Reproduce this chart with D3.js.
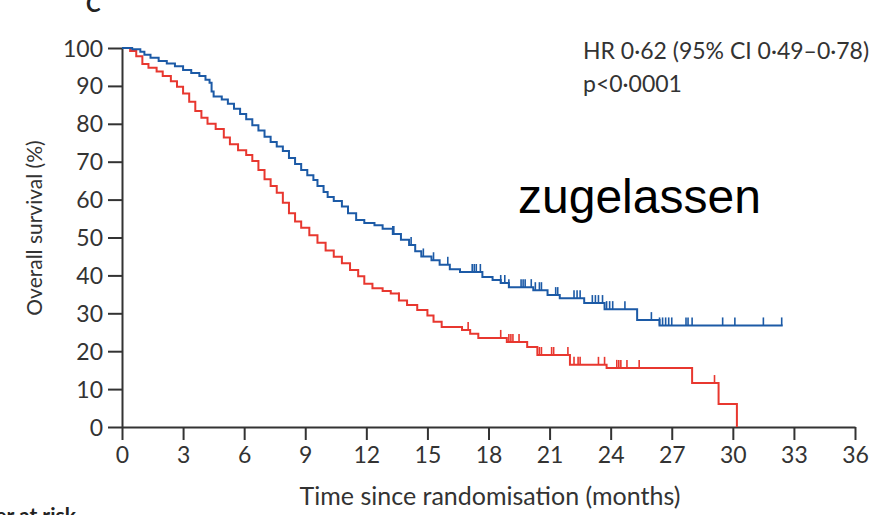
<!DOCTYPE html>
<html>
<head>
<meta charset="utf-8">
<script src="https://cdn.jsdelivr.net/npm/d3@7"></script>
<style>
  body { margin: 0; background: #fff; }
  svg { display: block; }
  .tick text { font-family: Lato, sans-serif; fill: #333; }
</style>
</head>
<body>
<svg></svg>
<script>
//Survival steps: [months, % alive]
let blueSteps = [
  [0, 100], [0.5, 99.7], [0.9, 99.0], [1.1, 98.2], [1.4, 97.4], [1.8, 96.6], [2.2, 95.9],
  [2.6, 95.2], [3.0, 94.2], [3.4, 93.4], [3.8, 92.6], [4.1, 91.6], [4.3, 90.8], [4.4, 88.5],
  [4.5, 87.2], [4.9, 86.4], [5.2, 85.3], [5.5, 84.0], [5.8, 82.6], [6.1, 81.2], [6.4, 79.6],
  [6.7, 78.2], [7.0, 76.6], [7.3, 75.2], [7.6, 74.0], [7.9, 72.8], [8.2, 71.0], [8.5, 69.4],
  [8.8, 67.8], [9.1, 66.4], [9.4, 65.2], [9.6, 63.6], [9.9, 62.0], [10.1, 60.7], [10.4, 59.6],
  [10.8, 58.2], [11.1, 56.4], [11.5, 54.6], [11.9, 53.8], [12.4, 53.2], [12.8, 52.3],
  [13.3, 50.9], [13.7, 49.4], [14.1, 48.0], [14.4, 46.4], [14.7, 45.0], [15.2, 44.0],
  [15.6, 42.8], [16.1, 41.6], [16.6, 40.9], [17.7, 39.6], [18.2, 38.8], [18.6, 38.0],
  [19.0, 36.9], [20.2, 36.1], [20.9, 34.8], [21.5, 34.0], [22.7, 32.7], [23.7, 31.1],
  [25.3, 28.2], [26.4, 26.8], [32.45, 26.8]
];
let redSteps = [
  [0, 100], [0.4, 99.2], [0.7, 97.8], [1.0, 95.8], [1.3, 94.8], [1.7, 93.8], [2.0, 92.6],
  [2.4, 91.2], [2.7, 89.8], [3.0, 88.0], [3.3, 85.8], [3.6, 83.4], [3.9, 81.6], [4.2, 80.0],
  [4.6, 78.6], [5.0, 76.4], [5.3, 74.6], [5.7, 73.0], [6.1, 71.8], [6.4, 70.2], [6.7, 67.8],
  [7.0, 65.4], [7.3, 63.6], [7.6, 61.8], [7.9, 59.2], [8.2, 56.4], [8.5, 54.2], [8.8, 52.6],
  [9.2, 50.6], [9.6, 48.6], [10.0, 46.6], [10.4, 44.9], [10.8, 43.2], [11.2, 41.4],
  [11.6, 39.8], [11.9, 37.8], [12.3, 36.6], [12.8, 35.9], [13.2, 35.2], [13.6, 33.4],
  [14.0, 32.2], [14.5, 30.9], [15.0, 29.4], [15.3, 27.8], [15.7, 26.4], [16.7, 25.6],
  [17.1, 24.6], [17.5, 23.5], [18.9, 22.4], [19.9, 21.1], [20.4, 19.0], [22.0, 16.4],
  [23.8, 15.6], [28.0, 11.6], [29.3, 6.1], [30.2, 0]
];

//Censor marks (months)
let blueCensored = [13.3, 13.35, 14.2, 14.8, 15.3, 16.0, 17.2, 17.3, 17.4, 17.6,
  18.6, 18.8, 19.0, 19.6, 19.7, 19.8, 20.1, 20.3, 20.5, 20.6, 21.3, 21.4,
  22.2, 22.35, 22.5, 23.1, 23.25, 23.4, 23.6, 23.8, 23.95, 24.1, 24.7, 26.0,
  26.4, 26.55, 26.7, 26.85, 27.0, 27.7, 27.8, 28.0, 29.5, 30.1, 31.5, 32.4];
let redCensored = [13.6, 17.0, 18.6, 19.0, 19.1, 19.2, 19.5, 20.5, 20.6, 21.1,
  21.2, 21.9, 22.2, 22.4, 22.5, 23.4, 23.7, 24.3, 24.4, 24.5, 24.8, 25.4, 29.1];

let xTicks = d3.range(0, 37, 3);
let yTicks = d3.range(0, 101, 10);

let hrText = 'HR 0·62 (95% CI 0·49–0·78)';
let pText = 'p<0·0001';
let xTitle = 'Time since randomisation (months)';
let yTitle = 'Overall survival (%)';

let canvas = { width: 879, height: 515 };
let plot = { left: 122, right: 855, top: 48, bottom: 427 };

let svg = d3.select('svg')
  .attr('width', canvas.width)
  .attr('height', canvas.height);

let xScale = d3.scaleLinear().domain([0, 36]).range([plot.left, plot.right]);
let yScale = d3.scaleLinear().domain([0, 100]).range([plot.bottom, plot.top]);

//Axes
let xAxis = d3.axisBottom(xScale).tickValues(xTicks).tickSize(13).tickSizeOuter(0).tickPadding(7);
let yAxis = d3.axisLeft(yScale).tickValues(yTicks).tickSize(14).tickSizeOuter(0).tickPadding(5);

let gx = svg.append('g')
  .attr('transform', 'translate(0,' + plot.bottom + ')')
  .call(xAxis);
gx.selectAll('text').style('font-size', '23px');

let gy = svg.append('g')
  .attr('transform', 'translate(' + plot.left + ',0)')
  .call(yAxis);
gy.selectAll('text').style('font-size', '23px').attr('dy', '0.35em');

svg.selectAll('.domain, .tick line')
  .attr('stroke', '#333')
  .attr('stroke-width', 2);

//Step lookup for censor marks
function valueAt(steps, t) {
  let v = steps[0][1];
  for (let s of steps) { if (s[0] <= t) v = s[1]; }
  return v;
}

function drawCurve(steps, censored, color) {
  let line = d3.line()
    .x((d) => xScale(d[0]))
    .y((d) => yScale(d[1]))
    .curve(d3.curveStepAfter);

  svg.append('path')
    .datum(steps)
    .attr('fill', 'none')
    .attr('stroke', color)
    .attr('stroke-width', 2)
    .attr('d', line);

  svg.append('g').selectAll('line')
    .data(censored)
    .enter()
    .append('line')
    .attr('x1', (d) => xScale(d))
    .attr('x2', (d) => xScale(d))
    .attr('y1', (d) => yScale(valueAt(steps, d)))
    .attr('y2', (d) => yScale(valueAt(steps, d)) - 8)
    .attr('stroke', color)
    .attr('stroke-width', 1.6);
}

drawCurve(redSteps, redCensored, '#e8372f');
drawCurve(blueSteps, blueCensored, '#1c5aa6');

//Texts
svg.append('text')
  .attr('x', 583).attr('y', 59)
  .style('font-family', 'Lato, sans-serif').style('font-size', '23px').style('fill', '#333')
  .text(hrText);

svg.append('text')
  .attr('x', 583).attr('y', 92)
  .style('font-family', 'Lato, sans-serif').style('font-size', '23px').style('fill', '#333')
  .text(pText);

svg.append('text')
  .attr('x', 518).attr('y', 213)
  .style('font-family', 'Liberation Sans, Arial, sans-serif').style('font-size', '48px').style('fill', '#000')
  .text('zugelassen');

svg.append('text')
  .attr('x', 490).attr('y', 505)
  .attr('text-anchor', 'middle')
  .style('font-family', 'Lato, sans-serif').style('font-size', '25px').style('fill', '#333')
  .text(xTitle);

svg.append('text')
  .attr('transform', 'translate(42,228) rotate(-90)')
  .attr('text-anchor', 'middle')
  .style('font-family', 'Lato, sans-serif').style('font-size', '21px').style('fill', '#333')
  .text(yTitle);

//Cut-off bits of the original figure
svg.append('text')
  .attr('x', 76).attr('y', 523)
  .attr('text-anchor', 'end')
  .style('font-family', 'Lato, sans-serif').style('font-size', '21px').style('font-weight', 'bold').style('fill', '#222')
  .text('Number at risk');

svg.append('text')
  .attr('x', 86).attr('y', 12)
  .style('font-family', 'Lato, sans-serif').style('font-size', '22px').style('font-weight', 'bold').style('fill', '#222')
  .text('C');
</script>
</body>
</html>
